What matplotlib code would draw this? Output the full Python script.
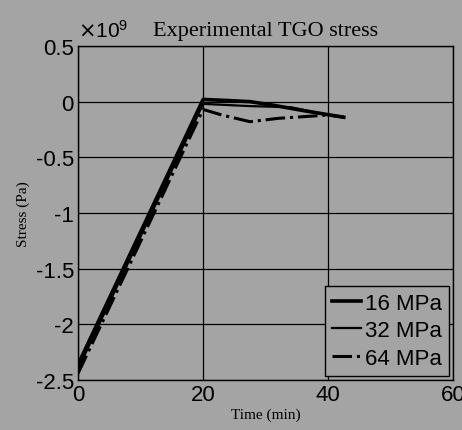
import matplotlib
matplotlib.use("Agg")
import matplotlib.pyplot as plt
from matplotlib.ticker import FuncFormatter

plt.rcParams['axes.unicode_minus'] = False
plt.rcParams['font.family'] = ['Liberation Sans', 'DejaVu Sans']

# time (min) and stress (Pa) for each load
t_16 = [0, 20, 24, 27.5, 31, 36, 42.5]
s_16 = [-2.36e9, 0.02e9, 0.01e9, 0.0, -0.03e9, -0.08e9, -0.14e9]
t_32 = [0, 20, 27.5, 34, 40, 42.5]
s_32 = [-2.40e9, -0.02e9, -0.04e9, -0.05e9, -0.12e9, -0.14e9]
t_64 = [0, 20, 23, 27.5, 32, 40, 42.5]
s_64 = [-2.44e9, -0.07e9, -0.12e9, -0.18e9, -0.15e9, -0.12e9, -0.14e9]
labels = ['16 MPa', '32 MPa', '64 MPa']

bg = '#a4a4a4'
fig = plt.figure(figsize=(4.62, 4.31), dpi=100, facecolor=bg)
ax = fig.add_axes([0.169, 0.116, 0.812, 0.775], facecolor=bg)

ax.plot(t_16, s_16, color='black', lw=2.6, label=labels[0])
ax.plot(t_32, s_32, color='black', lw=1.6, label=labels[1])
ax.plot(t_64, s_64, color='black', lw=2.2, linestyle='-.', label=labels[2])

ax.set_xlim(0, 60)
ax.set_ylim(-2.5e9, 0.5e9)
ax.set_xticks([0, 20, 40, 60])
ax.set_yticks([-2.5e9, -2e9, -1.5e9, -1e9, -0.5e9, 0, 0.5e9])
ax.yaxis.set_major_formatter(FuncFormatter(lambda v, p: '%g' % (v / 1e9)))
ax.text(0.0, 1.015, r'$\times\mathregular{10^{9}}$', transform=ax.transAxes,
        fontsize=15, ha='left', va='bottom')
ax.tick_params(labelsize=16, direction='in', length=0, pad=3, colors='black')
ax.grid(True, color='black', lw=0.9)
for sp in ax.spines.values():
    sp.set_color('black')
    sp.set_linewidth(1.0)

ax.set_title('Experimental TGO stress', family='Liberation Serif', fontsize=16, pad=8)
ax.set_xlabel('Time (min)', family='Liberation Serif', fontsize=11, labelpad=2)
ax.set_ylabel('Stress (Pa)', family='Liberation Serif', fontsize=11, labelpad=4)

leg = ax.legend(loc='lower right', fontsize=16, frameon=True, fancybox=False,
                edgecolor='black', facecolor=bg, framealpha=1,
                handlelength=1.3, handletextpad=0.2, borderpad=0.3,
                labelspacing=0.3, borderaxespad=0.2)
leg.get_frame().set_linewidth(1.0)

fig.savefig('out.png', dpi=100, facecolor=bg)
